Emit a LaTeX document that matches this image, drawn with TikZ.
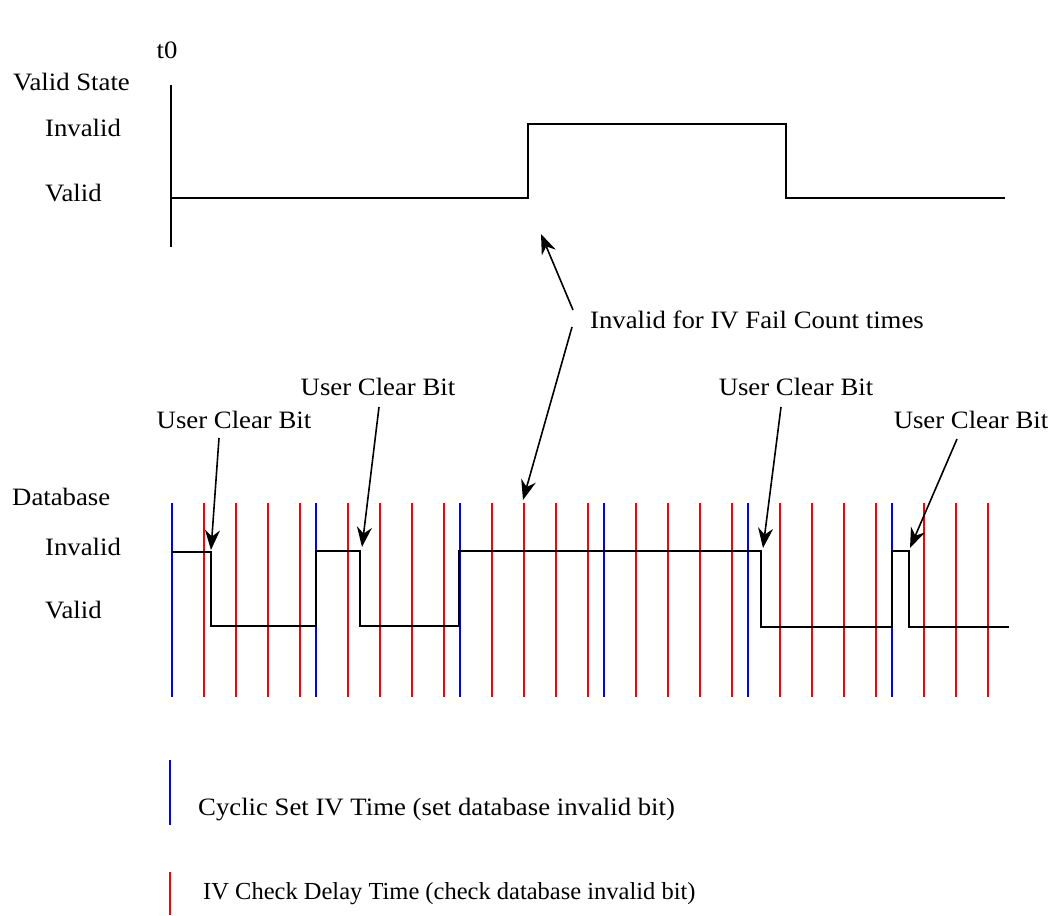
\documentclass[tikz,border=0pt]{standalone}
\usepackage{fontspec}
\setmainfont[FakeStretch=1.07]{Liberation Serif}
\newfontfamily\plainserif{Liberation Serif}
\usetikzlibrary{arrows.meta}
\begin{document}
\begin{tikzpicture}[x=1pt,y=-1pt,
  lbl/.style={inner sep=0pt,font=\fontsize{25}{28}\selectfont},
  sig/.style={black,line width=1.8pt},
  blu/.style={blue,line width=1.6pt},
  rd/.style={red,line width=1.6pt},
  arr/.style={black,line width=1.6pt,-{Stealth[length=20pt,width=15pt]}}]
\useasboundingbox (0,0) rectangle (1054,915);
% top chart
\node[lbl] (t0) at (167,50) {t0};
\node[lbl,anchor=west] (vs) at (13,82) {Valid State};
\node[lbl,anchor=west] (inv1) at (45,128) {Invalid};
\node[lbl,anchor=west] (val1) at (45,193) {Valid};
\draw[sig] (171,85) -- (171,247);
\draw[sig] (171,198) -- (528,198) -- (528,124) -- (786,124) -- (786,198) -- (1005,198);
\coordinate (topup) at (541,234);
% database chart
\node[lbl,anchor=west] (db) at (12,497) {Database};
\node[lbl,anchor=west] (inv2) at (45,547) {Invalid};
\node[lbl,anchor=west] (val2) at (45,610) {Valid};
\foreach \b in {172,316,460,604,748,892}{
  \draw[blu] (\b,503) -- (\b,697);
  \foreach \k in {1,2,3,4}{
    \pgfmathsetmacro{\xx}{\b+32*\k}
    \ifdim\xx pt<1000pt
      \draw[rd] (\xx,503) -- (\xx,697);
    \fi
  }
}
\draw[sig] (172,552) -- (211,552) -- (211,626) -- (316,626) -- (316,551)
  -- (360,551) -- (360,626) -- (459,626) -- (459,551) -- (761,551)
  -- (761,627) -- (892,627) -- (892,551) -- (909,551) -- (909,627) -- (1009,627);
% annotations
\node[lbl,anchor=west] (fail) at (590,320) {Invalid for IV Fail Count times};
\coordinate (failA) at (573,310);
\coordinate (failB) at (572,327);
\coordinate (dbtip) at (523,500);
\draw[arr] (failA) -- (topup);
\draw[arr] (failB) -- (dbtip);
\node[lbl] (ucb1) at (234,420) {User Clear Bit};
\node[lbl] (ucb2) at (378,387) {User Clear Bit};
\node[lbl] (ucb3) at (796,387) {User Clear Bit};
\node[lbl] (ucb4) at (971,420) {User Clear Bit};
\coordinate (c1) at (211,550);
\coordinate (c2) at (362,547);
\coordinate (c3) at (763,548);
\coordinate (c4) at (910,548);
\draw[arr] (219,438) -- (c1);
\draw[arr] (379,407) -- (c2);
\draw[arr] (781,407) -- (c3);
\draw[arr] (957,439) -- (c4);
% legend
\draw[blu] (170,760) -- (170,825);
\node[lbl,anchor=west] (leg1) at (198,810) {Cyclic Set IV Time (set database invalid bit)};
\draw[rd] (170,872) -- (170,915);
\node[lbl,anchor=west,font=\plainserif\fontsize{24.5}{28}\selectfont] (leg2) at (203,894) {IV Check Delay Time (check database invalid bit)};
\end{tikzpicture}
\end{document}
